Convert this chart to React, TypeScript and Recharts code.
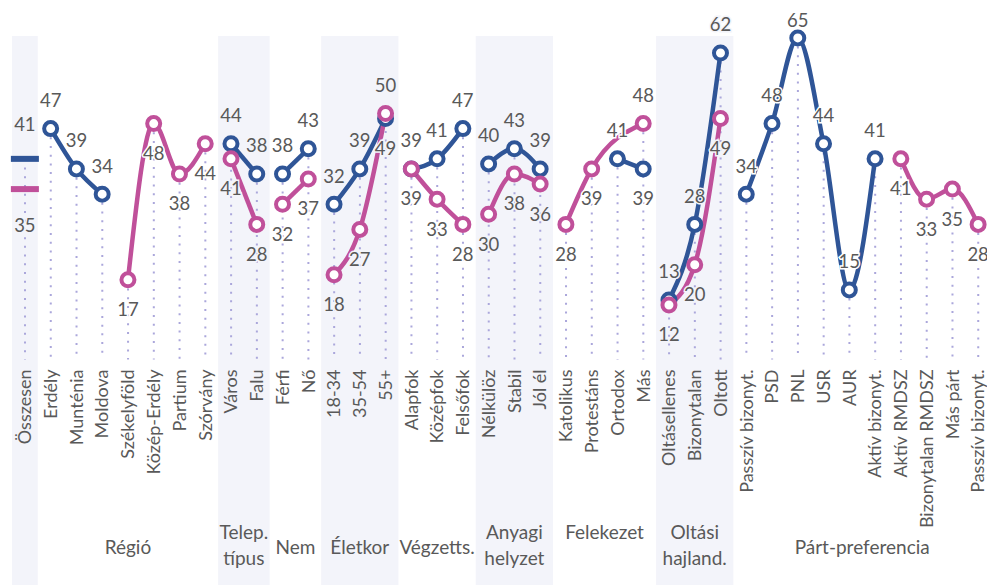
import React from "react"
import { Bar, ComposedChart, Label, LabelList, Line, ReferenceArea, XAxis, YAxis } from "recharts"

const categories = [
  "Összesen",
  "Erdély", "Munténia", "Moldova", "Székelyföld", "Közép-Erdély", "Partium", "Szórvány",
  "Város", "Falu",
  "Férfi", "Nő",
  "18-34", "35-54", "55+",
  "Alapfok", "Középfok", "Felsőfok",
  "Nélkülöz", "Stabil", "Jól él",
  "Katolikus", "Protestáns", "Ortodox", "Más",
  "Oltásellenes", "Bizonytalan", "Oltott",
  "Passzív bizonyt.", "PSD", "PNL", "USR", "AUR", "Aktív bizonyt.",
  "Aktív RMDSZ", "Bizonytalan RMDSZ", "Más párt", "Passzív bizonyt.",
]

const blueValues: (number | null)[] = [
  41,
  47, 39, 34, null, null, null, null,
  44, 38,
  38, 43,
  32, 39, 49,
  39, 41, 47,
  40, 43, 39,
  null, null, 41, 39,
  13, 28, 62,
  34, 48, 65, 44, 15, 41,
  null, null, null, null,
]

const pinkValues: (number | null)[] = [
  35,
  null, null, null, 17, 48, 38, 44,
  41, 28,
  32, 37,
  18, 27, 50,
  39, 33, 28,
  30, 38, 36,
  28, 39, null, 48,
  12, 20, 49,
  null, null, null, null, null, null,
  41, 33, 35, 28,
]

const groupNames = [
  "",
  "Régió",
  "Telep.\ntípus",
  "Nem",
  "Életkor",
  "Végzetts.",
  "Anyagi\nhelyzet",
  "Felekezet\n",
  "Oltási\nhajland.",
  "Párt-preferencia",
]
const groupSizes = [1, 7, 2, 2, 3, 3, 3, 4, 3, 10]

const BLUE = "#2F5597"
const PINK = "#C0509A"
const BAND = "#F3F4FA"
const DROP = "#ABA7DB"
const TEXT = "#595959"
const FONT = "Lato, 'Open Sans', sans-serif"

const groupStart: number[] = []
groupSizes.reduce((acc, n) => {
  groupStart.push(acc)
  return acc + n
}, 0)

const groupOf = (i: number) => {
  let g = 0
  groupStart.forEach((s, k) => {
    if (i >= s) g = k
  })
  return g
}

const data = categories.map((name, i) => {
  const g = groupOf(i)
  const b = blueValues[i]
  const p = pinkValues[i]
  const present = [b, p].filter((v) => v != null) as number[]
  const row: Record<string, any> = { i, name, top: present.length ? Math.max(...present) : null }
  row[`b${g}`] = b
  row[`p${g}`] = p
  return row
})

const makeLabel = (series: "b" | "p") => (props: any) => {
  const { x, y, value, index } = props
  if (value == null || x == null || y == null) return null
  const b = blueValues[index]
  const p = pinkValues[index]
  const pinkHigher = b != null && p != null && p > b
  const above = series === "b" ? !pinkHigher : pinkHigher
  const g = groupOf(index)
  const extra = g === 0 ? 6 : 0
  let cy = above ? y - 28 - extra : y + 30 + extra
  if (cy < 21) cy = 21
  const bg = g % 2 === 0 ? BAND : "#ffffff"
  return (
    <text
      x={x}
      y={cy}
      dy="0.35em"
      textAnchor="middle"
      fontSize={18.5}
      fill={TEXT}
      stroke={bg}
      strokeWidth={3}
      paintOrder="stroke"
      fontFamily={FONT}
    >
      {value}
    </text>
  )
}

const CategoryTick = (props: any) => {
  const { x, y, payload } = props
  return (
    <text
      x={0}
      y={0}
      transform={`translate(${x},${y}) rotate(-90)`}
      textAnchor="end"
      dy="0.35em"
      fontSize={18}
      fill={TEXT}
      fontFamily={FONT}
    >
      {categories[payload.value]}
    </text>
  )
}

const GroupLabel = (props: any) => {
  const { viewBox, g } = props
  if (!viewBox) return null
  const lines = groupNames[g].split("\n")
  const cx = viewBox.x + viewBox.width / 2
  const startY = lines.length === 1 ? 547 : 532
  return (
    <text textAnchor="middle" fontSize={19} fill={TEXT} fontFamily={FONT}>
      {lines.map((t, k) => (
        <tspan key={k} x={cx} y={startY + k * 26} dy="0.35em">
          {t}
        </tspan>
      ))}
    </text>
  )
}

const dashDot = (color: string) => (props: any) => {
  const { cx, cy, index } = props
  if (cx == null || cy == null) return <g key={`d${index}`} />
  return <rect key={`d${index}`} x={cx - 14} y={cy - 3} width={28} height={6} fill={color} />
}

const App: React.FC = () => {
  return (
    <div style={{ position: "absolute", left: 0, top: 0, width: 987, height: 585, overflow: "hidden", background: "#fff" }}>
      <ComposedChart width={992} height={585} data={data} margin={{ top: 12.7, right: 1, left: 12, bottom: 0 }}>
        {groupSizes.map((n, g) => (
          <ReferenceArea
            key={`band${g}`}
            x1={groupStart[g]}
            x2={groupStart[g] + n - 1}
            y1={-44}
            y2={65.4}
            ifOverflow="visible"
            fill={g % 2 === 0 ? BAND : "none"}
            fillOpacity={1}
            stroke="none"
            label={<Label content={(p: any) => <GroupLabel {...p} g={g} />} />}
          />
        ))}
        <XAxis
          dataKey="i"
          type="category"
          interval={0}
          axisLine={false}
          tickLine={false}
          tickSize={0}
          tickMargin={4}
          height={219.5}
          tick={<CategoryTick />}
        />
        <YAxis hide domain={[0, 70]} />
        <Bar
          dataKey="top"
          barSize={2}
          isAnimationActive={false}
          shape={(p: any) => (
            <line
              x1={p.x + p.width / 2}
              y1={p.y}
              x2={p.x + p.width / 2}
              y2={p.y + p.height - 6}
              stroke={DROP}
              strokeWidth={2}
              strokeDasharray="2 6.7"
            />
          )}
        />
        {groupSizes.map((_, g) => (
          <Line
            key={`b${g}`}
            dataKey={`b${g}`}
            type="monotone"
            stroke={g === 0 ? "none" : BLUE}
            strokeWidth={4.5}
            connectNulls
            isAnimationActive={false}
            dot={g === 0 ? dashDot(BLUE) : { r: 6.5, strokeWidth: 4, fill: "#fff", stroke: BLUE }}
            activeDot={false}
          >
            <LabelList dataKey={`b${g}`} content={makeLabel("b")} />
          </Line>
        ))}
        {groupSizes.map((_, g) => (
          <Line
            key={`p${g}`}
            dataKey={`p${g}`}
            type="monotone"
            stroke={g === 0 ? "none" : PINK}
            strokeWidth={4.5}
            connectNulls
            isAnimationActive={false}
            dot={g === 0 ? dashDot(PINK) : { r: 6.5, strokeWidth: 4, fill: "#fff", stroke: PINK }}
            activeDot={false}
          >
            <LabelList dataKey={`p${g}`} content={makeLabel("p")} />
          </Line>
        ))}
      </ComposedChart>
    </div>
  )
}

export default App
